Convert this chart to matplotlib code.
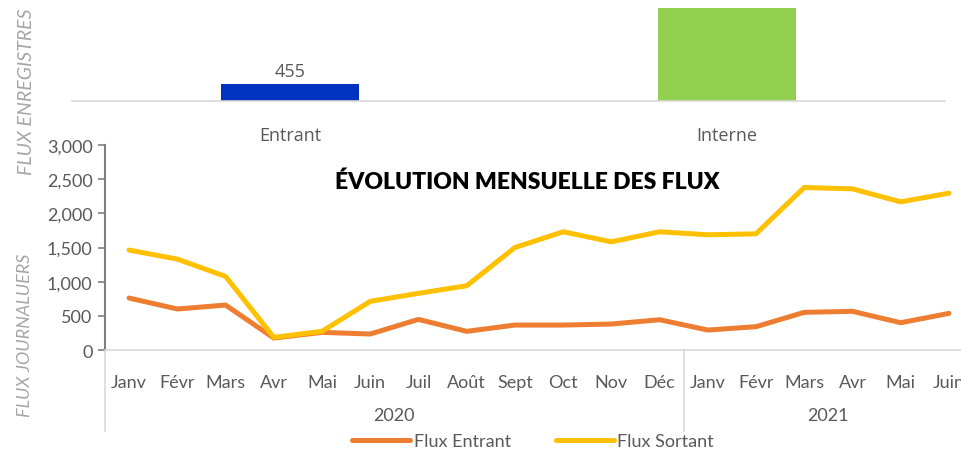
import numpy as np
import matplotlib.pyplot as plt
from matplotlib import transforms

plt.rcParams['font.family'] = ['Lato', 'DejaVu Sans']

# top bar chart (flux enregistres)
bar_labels = ['Entrant', 'Interne']
bar_values = [455, 2490]
bar_colors = ['#0033BF', '#92D050']

# monthly lines
months = ['Janv', 'Févr', 'Mars', 'Avr', 'Mai', 'Juin', 'Juil', 'Août', 'Sept',
          'Oct', 'Nov', 'Déc', 'Janv', 'Févr', 'Mars', 'Avr', 'Mai', 'Juin']
years = ['2020', '2021']
year_counts = [12, 6]
flux_entrant = [760, 600, 658, 175, 258, 234, 448, 273, 365,
                365, 380, 443, 292, 341, 551, 566, 399, 536]
flux_sortant = [1462, 1330, 1077, 185, 273, 712, 829, 940, 1500,
                1730, 1583, 1730, 1686, 1700, 2378, 2358, 2168, 2295]

W, H = 962, 452
fig = plt.figure(figsize=(W / 100, H / 100), dpi=100)
grey = '#595959'

# ---- top bar chart
ax1 = fig.add_axes([72 / W, 1 - 102 / H, 873 / W, 102 / H])
xb = np.arange(len(bar_labels))
ax1.bar(xb, bar_values, width=0.316, color=bar_colors)
ax1.set_xlim(-0.5, 1.5)
ax1.set_ylim(0, 455 * 102 / 17)
ax1.text(xb[0], bar_values[0] + 110, str(bar_values[0]), ha='center', va='bottom',
         fontsize=13, color=grey, family=['Open Sans', 'DejaVu Sans'])
for s in ['top', 'right', 'left']:
    ax1.spines[s].set_visible(False)
ax1.spines['bottom'].set_color('#D9D9D9')
ax1.spines['bottom'].set_linewidth(1.2)
ax1.set_yticks([])
ax1.set_xticks(xb)
ax1.set_xticklabels(bar_labels, fontsize=13, color=grey, family=['Open Sans', 'DejaVu Sans'])
ax1.tick_params(axis='x', length=0, pad=18)

# ---- line chart
ax2 = fig.add_axes([105 / W, 1 - 351 / H, 868 / W, 205 / H])
x = np.arange(len(months))
ax2.plot(x, flux_entrant, color='#ED7D31', lw=3.6, solid_capstyle='round', label='Flux Entrant')
ax2.plot(x, flux_sortant, color='#FFC000', lw=3.6, solid_capstyle='round', label='Flux Sortant')
ax2.set_xlim(-0.5, len(months) - 0.5)
ax2.set_ylim(0, 3000)
ax2.set_yticks(range(0, 3001, 500))
ax2.set_yticklabels([f'{v:,}' for v in range(0, 3001, 500)], fontsize=13, color=grey)
ax2.set_xticks(x)
ax2.set_xticklabels(months, fontsize=13, color=grey)
ax2.tick_params(axis='x', length=0, pad=17)
ax2.tick_params(axis='y', length=5, color='#7F7F7F', width=1.2, pad=4)
ax2.spines['top'].set_visible(False)
ax2.spines['right'].set_visible(False)
ax2.spines['left'].set_color('#7F7F7F')
ax2.spines['left'].set_linewidth(1.5)
ax2.spines['bottom'].set_color('#D9D9D9')
ax2.spines['bottom'].set_linewidth(1.2)

trans = transforms.blended_transform_factory(ax2.transData, ax2.transAxes)
low = -(432 - 351) / 205
start = -0.5
for yr, n in zip(years, year_counts):
    ax2.plot([start, start], [0, low], transform=trans, color='#D9D9D9', lw=1.2, clip_on=False)
    ax2.text(start + n / 2, -(416 - 351) / 205, yr, transform=trans, ha='center', va='center',
             fontsize=13, color=grey)
    start += n

ax2.text(8.25, 2470, 'ÉVOLUTION MENSUELLE DES FLUX', ha='center', va='center',
         fontsize=16.5, fontweight='heavy', color='black')

fig.text(27 / W, 1 - 92 / H, 'FLUX ENREGISTRES', rotation=90, ha='center', va='center',
         fontsize=14, style='italic', color='#A6A6A6')
fig.text(25 / W, 1 - 335 / H, 'FLUX JOURNALUERS', rotation=90, ha='center', va='center',
         fontsize=13, style='italic', color='#A6A6A6')

fig.legend(loc='center', bbox_to_anchor=(533 / W, 1 - 442 / H), ncol=2, frameon=False,
           fontsize=13, handlelength=3.2, columnspacing=2.5, handletextpad=0.2,
           labelcolor=grey, borderpad=0)

fig.savefig('out.png', dpi=100)
